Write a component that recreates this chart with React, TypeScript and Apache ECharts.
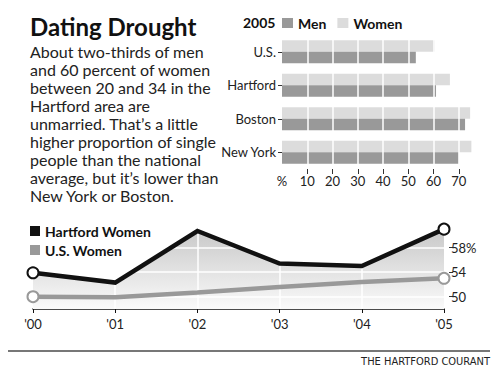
import React, { useEffect, useRef } from "react";
import * as echarts from "echarts";

const cities = ["U.S.", "Hartford", "Boston", "New York"];
const menPct = [53, 61, 72.5, 70];
const womenPct = [60.5, 66.5, 74.5, 75];
const barTicks = [10, 20, 30, 40, 50, 60, 70];
const barLabels = [0, 10, 20, 30, 40, 50, 60, 70];

const years = ["'00", "'01", "'02", "'03", "'04", "'05"];
const hartfordWomen = [53.9, 52.3, 60.7, 55.4, 55.0, 61.0];
const usWomen = [50.0, 49.9, 50.7, 51.6, 52.4, 53.0];
const lineTicks = [50, 54, 58];

const bodyLines = [
  "About two-thirds of men",
  "and 60 percent of women",
  "between 20 and 34 in the",
  "Hartford area are",
  "unmarried. That\u2019s a little",
  "higher proportion of single",
  "people than the national",
  "average, but it\u2019s lower than",
  "New York or Boston.",
];

const FONT = "Lato, 'Noto Sans', sans-serif";

export default function App() {
  const ref = useRef<HTMLDivElement>(null);
  useEffect(() => {
    if (!ref.current) return;
    const chart = echarts.init(ref.current, undefined, { renderer: "svg" });
    const endsOnly = (arr: number[]) =>
      arr.map((v, i) => (i === 0 || i === arr.length - 1 ? { value: v } : { value: v, symbol: "none" }));
    chart.setOption({
      animation: false,
      backgroundColor: "#fff",
      textStyle: { fontFamily: FONT },
      legend: [
        {
          data: ["Men", "Women"],
          left: 282,
          top: 16,
          padding: 0,
          icon: "rect",
          itemWidth: 11,
          itemHeight: 10,
          itemGap: 11,
          textStyle: { fontFamily: FONT, fontWeight: "bold", fontSize: 14, color: "#111" },
          selectedMode: false,
        },
        {
          data: ["Hartford Women", "U.S. Women"],
          left: 30,
          top: 224,
          padding: 0,
          orient: "vertical",
          icon: "rect",
          itemWidth: 10,
          itemHeight: 10,
          itemGap: 5,
          textStyle: { fontFamily: FONT, fontWeight: "bold", fontSize: 14, color: "#111" },
          selectedMode: false,
        },
      ],
      grid: [
        { left: 282, top: 35, width: 202, height: 134 },
        { left: 33, right: 56, top: 223, bottom: 70 },
      ],
      xAxis: [
        {
          gridIndex: 0,
          type: "value",
          min: 0,
          max: 80,
          axisLine: { show: false },
          splitLine: { show: false },
          axisTick: { show: true, customValues: barTicks, length: 5, lineStyle: { color: "#333" } },
          axisLabel: {
            customValues: barLabels,
            formatter: (v: number) => (v === 0 ? "%" : String(v)),
            fontSize: 13,
            color: "#222",
            margin: 5,
            fontFamily: FONT,
          },
        },
        {
          gridIndex: 1,
          type: "category",
          data: years,
          boundaryGap: false,
          axisLine: { lineStyle: { color: "#111", width: 1.5 } },
          axisTick: { length: 4, lineStyle: { color: "#111" } },
          axisLabel: { fontSize: 13, color: "#222", margin: 8, fontFamily: FONT },
          splitLine: { show: false },
        },
      ],
      yAxis: [
        {
          gridIndex: 0,
          type: "category",
          data: cities,
          inverse: true,
          axisLine: { show: false },
          axisTick: { show: true, alignWithLabel: true, length: 4, lineStyle: { color: "#333" } },
          axisLabel: { fontSize: 13, color: "#222", margin: 6, fontFamily: FONT },
        },
        {
          gridIndex: 1,
          type: "value",
          position: "right",
          offset: 5,
          min: 48,
          max: 62,
          axisLine: { show: false },
          splitLine: { show: false },
          axisTick: { show: true, customValues: lineTicks, length: 4, lineStyle: { color: "#333" } },
          axisLabel: {
            customValues: lineTicks,
            formatter: (v: number) => (v === 58 ? "58%" : String(v)),
            fontSize: 13,
            color: "#222",
            margin: 2,
            fontFamily: FONT,
          },
        },
      ],
      series: [
        {
          name: "Women",
          type: "bar",
          xAxisIndex: 0,
          yAxisIndex: 0,
          data: womenPct,
          barGap: "0%",
          barCategoryGap: "31%",
          itemStyle: { color: "#dcdcdc" },
        },
        {
          name: "Men",
          type: "bar",
          xAxisIndex: 0,
          yAxisIndex: 0,
          data: menPct,
          itemStyle: { color: "#999999" },
          markLine: {
            silent: true,
            symbol: "none",
            label: { show: false },
            lineStyle: { color: "#fff", width: 1.5, type: "solid" },
            data: barTicks.map((v) => ({ xAxis: v })),
          },
        },
        {
          name: "Hartford area fill",
          type: "line",
          xAxisIndex: 1,
          yAxisIndex: 1,
          data: hartfordWomen,
          symbol: "none",
          z: 1,
          lineStyle: { width: 1, opacity: 0 },
          areaStyle: {
            origin: "start",
            opacity: 1,
            color: {
              type: "linear",
              x: 0,
              y: 0,
              x2: 0,
              y2: 1,
              colorStops: [
                { offset: 0, color: "#c8c8c8" },
                { offset: 1, color: "#fafafa" },
              ],
            },
          },
          markLine: {
            silent: true,
            z: 2,
            symbol: "none",
            label: { show: false },
            lineStyle: { color: "#fff", width: 1.5, type: "solid" },
            data: [
              ...[1, 2, 3, 4].map((i) => ({ xAxis: i })),
              ...lineTicks.map((v) => ({ yAxis: v })),
            ],
          },
        },
        {
          name: "U.S. Women",
          type: "line",
          xAxisIndex: 1,
          yAxisIndex: 1,
          data: endsOnly(usWomen),
          z: 3,
          symbol: "emptyCircle",
          symbolSize: 11,
          showAllSymbol: true,
          itemStyle: { color: "#999999", borderWidth: 3 },
          lineStyle: { color: "#999999", width: 4.5 },
        },
        {
          name: "Hartford Women",
          type: "line",
          xAxisIndex: 1,
          yAxisIndex: 1,
          data: endsOnly(hartfordWomen),
          z: 4,
          symbol: "emptyCircle",
          symbolSize: 11,
          showAllSymbol: true,
          itemStyle: { color: "#111111", borderWidth: 3 },
          lineStyle: { color: "#111111", width: 4.5, join: "miter" },
        },
      ],
      graphic: [
        {
          type: "text",
          left: 30,
          top: 14,
          style: { text: "Dating Drought", font: `bold 24px ${FONT}`, fill: "#111" },
        },
        {
          type: "text",
          left: 30,
          top: 42,
          style: { text: bodyLines.join("\n"), font: `16px ${FONT}`, fill: "#222", lineHeight: 18 },
        },
        {
          type: "text",
          left: 243,
          top: 15,
          style: { text: "2005", font: `bold 14px ${FONT}`, fill: "#111" },
        },
        {
          type: "line",
          shape: { x1: 8, y1: 351, x2: 490, y2: 351 },
          style: { stroke: "#777", lineWidth: 2 },
        },
        {
          type: "text",
          right: 10,
          top: 356,
          style: {
            text: "THE HARTFORD COURANT",
            font: `11px 'Liberation Sans Narrow', 'DejaVu Sans Condensed', sans-serif`,
            fill: "#222",
          },
        },
      ],
    });
    return () => chart.dispose();
  }, []);
  return <div ref={ref} style={{ position: "absolute", left: 0, top: 0, width: 500, height: 379 }} />;
}
